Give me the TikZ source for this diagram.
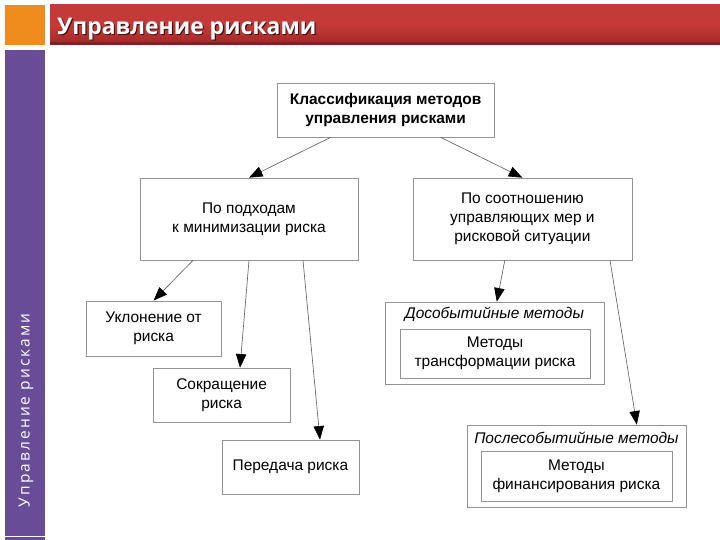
\documentclass[tikz,border=0pt]{standalone}
\usepackage{fontspec}
\setmainfont{Liberation Sans}
\newfontfamily\headfont{Open Sans}
\newfontfamily\sidefont[LetterSpace=13.5]{Open Sans}
\usetikzlibrary{positioning,arrows.meta}
\definecolor{headred}{RGB}{196,58,56}
\definecolor{headdark}{RGB}{160,40,40}
\definecolor{sideviolet}{RGB}{104,76,152}
\definecolor{cornerorange}{RGB}{240,140,30}

\begin{document}
\begin{tikzpicture}[
    box/.style={draw=gray!85, line width=0.5pt, inner sep=0pt, align=center,
        font=\fontsize{11}{13.7}\selectfont},
    link/.style={draw=gray!75!black, line width=0.45pt,
        -{Triangle[length=3.4mm,width=2.6mm,black]}}
]
    \useasboundingbox (0,0) rectangle (18,13.5);
    \fill[white] (0,0) rectangle (18,13.5);
    % Header
    \fill[cornerorange] (0.125,12.375) rectangle (1.125,13.375);
    \shade[top color=headred, bottom color=headdark, middle color=headred]
        (1.25,12.375) rectangle (18,13.375);
    \fill[headdark!80!black] (1.25,12.375) rectangle (18,12.45);
    \node[anchor=west, text=black!60!headdark, font=\headfont\bfseries\fontsize{16.3}{19}\selectfont]
        at (1.34,12.75) {Управление рисками};
    \node[anchor=west, text=white, font=\headfont\bfseries\fontsize{16.3}{19}\selectfont]
        (title) at (1.31,12.78) {Управление рисками};
    % Side bar
    \fill[sideviolet] (0.125,0) rectangle (1.125,12.25);
    \draw[white, line width=0.6pt] (0.125,0.1) -- (1.125,0.1);
    \node[rotate=90, anchor=west, text=white, font=\sidefont\fontsize{11}{13}\selectfont]
        (sidetitle) at (0.65,0.7) {Управление рисками};

    % Level 1
    \node[box, minimum width=5.43cm, minimum height=1.35cm,
        font=\bfseries\fontsize{11}{14.2}\selectfont]
        (top) at (9.64,10.75) {Классификация методов\\управления рисками};
    % Level 2
    \node[box, minimum width=5.45cm, minimum height=2.05cm]
        (approach) at (6.225,8.025) {По подходам\\к минимизации риска};
    \node[box, minimum width=5.475cm, minimum height=2.05cm]
        (ratio) at (13.06,8.025) {По соотношению\\управляющих мер и\\рисковой ситуации};
    % Approaches
    \node[box, minimum width=3.375cm, minimum height=1.375cm]
        (avoid) at (3.84,5.29) {Уклонение от\\риска};
    \node[box, minimum width=3.425cm, minimum height=1.35cm]
        (reduce) at (5.54,3.625) {Сокращение\\риска};
    \node[box, minimum width=3.425cm, minimum height=1.35cm]
        (transfer) at (7.26,1.825) {Передача риска};
    % Before the event
    \node[box, minimum width=5.475cm, minimum height=2.05cm]
        (before) at (12.36,4.925) {};
    \node[font=\itshape\fontsize{11}{13}\selectfont]
        (beforelbl) at (12.36,5.63) {Дособытийные методы};
    \node[box, minimum width=4.75cm, minimum height=1.225cm]
        (transform) at (12.375,4.66) {Методы\\трансформации риска};
    % After the event
    \node[box, minimum width=5.475cm, minimum height=2.05cm]
        (after) at (14.41,1.85) {};
    \node[font=\itshape\fontsize{11}{13}\selectfont]
        (afterlbl) at (14.41,2.55) {Послесобытийные методы};
    \node[box, minimum width=4.775cm, minimum height=1.25cm]
        (finance) at (14.41,1.6) {Методы\\финансирования риска};

    % Connectors
    \draw[link] ([xshift=-1.375cm]top.south) -- (approach.north);
    \draw[link] ([xshift=1.375cm]top.south) -- (ratio.north);
    \draw[link] ([xshift=-1.4cm]approach.south) -- (avoid.north);
    \draw[link] (approach.south) -- ([xshift=0.46cm]reduce.north);
    \draw[link] ([xshift=1.35cm]approach.south) -- ([xshift=0.74cm]transfer.north);
    \draw[link] ([xshift=-0.44cm]ratio.south) -- ([xshift=0.06cm]before.north);
    \draw[link] ([xshift=2.19cm]ratio.south) -- ([xshift=1.51cm]after.north);
\end{tikzpicture}
\end{document}
